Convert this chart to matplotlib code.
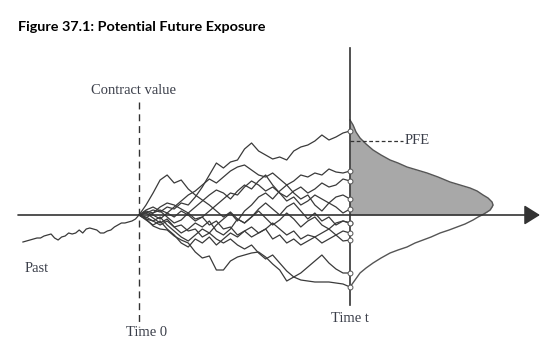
import matplotlib.pyplot as plt
import numpy as np

# time steps (time 0 -> 0, time t -> 30)
steps = list(range(31))

# simulated contract values from time 0 to time t
path_a = [0, 2, 5, 3, 8, 6, 12, 10, 18, 28, 40, 52, 47, 53, 55, 66, 72, 64, 60, 56, 58, 55, 64, 68, 70, 74, 80, 75, 78, 82, 84]
path_b = [0, 10, 22, 35, 40, 32, 35, 26, 20, 15, 10, 4, -2, 3, -4, -8, -2, 4, -3, -10, -5, 2, -4, -12, -6, -2, -10, -14, -8, -6, -8]
path_c = [0, -3, 2, 5, 2, 8, 14, 20, 24, 30, 36, 32, 38, 44, 48, 50, 45, 40, 38, 42, 36, 30, 34, 40, 38, 42, 40, 46, 43, 42, 44]
path_d = [0, 4, 2, 8, 12, 10, 6, 2, -4, -2, 4, 10, 16, 22, 20, 28, 34, 30, 24, 28, 22, 18, 24, 28, 22, 26, 32, 28, 30, 36, 34]
path_e = [0, 5, 8, 4, -2, -8, -5, 2, 8, 14, 20, 25, 22, 16, 24, 30, 26, 34, 40, 30, 22, 14, 18, 10, 14, 20, 16, 12, 18, 20, 16]
path_f = [0, -4, -6, -2, -10, -16, -22, -26, -20, -14, -18, -10, -4, 2, -6, 4, 10, 18, 22, 16, 24, 30, 22, 16, 20, 10, 4, 12, 8, 2, 6]
path_g = [0, 2, -3, -8, -4, -12, -18, -14, -8, -12, -6, -16, -20, -14, -4, -8, -2, 6, 12, 6, 0, 8, 12, 4, -4, 2, -6, -2, -10, -6, -8]
path_h = [0, -5, -10, -6, -14, -20, -28, -32, -24, -28, -22, -30, -24, -18, -22, -16, -12, -18, -14, -8, -14, -20, -16, -24, -20, -22, -18, -14, -20, -16, -18]
path_k = [0, 3, 0, -4, 2, -2, 4, 0, -6, -2, -10, -6, -14, -12, -20, -16, -22, -18, -14, -24, -20, -28, -24, -30, -26, -22, -28, -24, -20, -26, -25]
path_i = [0, -2, -6, -10, -6, -12, -10, -16, -14, -22, -18, -24, -28, -24, -30, -34, -30, -38, -44, -40, -48, -56, -62, -58, -52, -46, -40, -48, -54, -58, -58]
path_j = [0, -4, -11, -14, -15, -21, -25, -28, -37, -43, -41, -55, -55, -46, -42, -40, -38, -37, -42, -49, -55, -66, -62, -65, -66, -67, -67, -67, -68, -69, -72]
paths = [path_a, path_b, path_c, path_d, path_e, path_f, path_g, path_h, path_k, path_i, path_j]

# past contract value
past_steps = [-16.5, -16, -15.5, -15, -14.5, -14, -13.5, -13, -12.5, -12, -11.5, -11, -10.5, -10, -9.5, -9, -8.5,
              -8, -7.5, -7, -6.5, -6, -5.5, -5, -4.5, -4, -3.5, -3, -2.5, -2, -1.5, -1, -0.5, 0]
past_values = [-27, -26, -25, -24, -23, -23, -21, -20, -19, -23, -25, -22, -21, -18, -19, -18, -15,
               -18, -14, -13, -14, -15, -18, -18, -16, -15, -12, -10, -8, -8, -7, -6, -4, 0]

# distribution of values at time t (value, density width)
dist_values = [95, 90, 83, 77, 71, 65, 60, 55, 52, 48, 45, 42, 38, 33, 30, 27, 24, 20, 17, 13, 10, 8, 5, 3, 0,
               -2, -5, -9, -12, -15, -18, -22, -25, -28, -32, -35, -38, -43, -48, -53, -58, -65, -72]
dist_width = [0, 0.43, 0.85, 1.42, 2.28, 3.27, 4.41, 5.69, 6.82, 8.10, 9.53, 10.95, 12.51, 14.22, 15.64, 17.06,
              18.06, 18.91, 19.62, 20.19, 20.33, 20.19, 19.91, 19.48, 18.77, 18.20, 17.49, 16.35, 15.21, 14.08,
              12.80, 11.52, 10.38, 9.24, 8.10, 6.82, 5.69, 4.41, 3.27, 2.28, 1.42, 0.71, 0]
pfe_value = 74

line_col = '#3a3a3a'
text_col = '#3b3f4a'
serif = ['Liberation Serif', 'DejaVu Serif']

fig = plt.figure(figsize=(5.47, 3.53), dpi=100)
ax = fig.add_axes([0, 0, 1, 1])
ax.set_xlim(-19.76, 58.0)
ax.set_ylim(-138, 215)
ax.axis('off')

t_end = steps[-1]

# distribution at time t
dist_x = np.array(dist_width) + t_end
dist_v = np.array(dist_values)
ax.fill_betweenx(dist_v, t_end, dist_x, where=dist_v >= 0, color='#a8a8a8', lw=0)
ax.plot(dist_x, dist_v, color='#555555', lw=1.0, solid_joinstyle='round')

# axes
ax.annotate('', xy=(57.0, 0), xytext=(-17.2, 0),
            arrowprops=dict(arrowstyle='-|>,head_length=0.4,head_width=0.25', color='#333333',
                            lw=1.2, mutation_scale=24, shrinkA=0, shrinkB=0))
ax.plot([t_end, t_end], [167, -90], color='#333333', lw=1.2)
ax.plot([0, 0], [113, -112], color='#333333', lw=1.0, dashes=(5, 3.5))

# paths
ax.plot(past_steps, past_values, color=line_col, lw=0.9, solid_joinstyle='round')
for p in paths:
    ax.plot(steps, p, color=line_col, lw=0.9, solid_joinstyle='round', solid_capstyle='round')
    ax.plot(steps[-1], p[-1], 'o', ms=3.5, mfc='white', mec='#555555', mew=0.7)

# PFE marker
ax.plot([t_end, 37.5], [pfe_value, pfe_value], color='#333333', lw=0.9, dashes=(3, 2))
ax.text(37.8, pfe_value, 'PFE', family=serif, fontsize=10.5, color=text_col, va='center', ha='left')

ax.text(-0.85, 125, 'Contract value', family=serif, fontsize=10.5, color=text_col, va='center', ha='center')
ax.text(-16.2, -53, 'Past', family=serif, fontsize=10.5, color=text_col, va='center', ha='left')
ax.text(1.1, -118, 'Time 0', family=serif, fontsize=10.5, color=text_col, va='center', ha='center')
ax.text(30, -103, 'Time t', family=serif, fontsize=10.5, color=text_col, va='center', ha='center')

fig.text(0.033, 0.924, 'Figure 37.1: Potential Future Exposure', family=['Lato', 'DejaVu Sans'],
         fontweight='bold', fontsize=10.4, va='center', ha='left')

fig.savefig('out.png', dpi=100)
